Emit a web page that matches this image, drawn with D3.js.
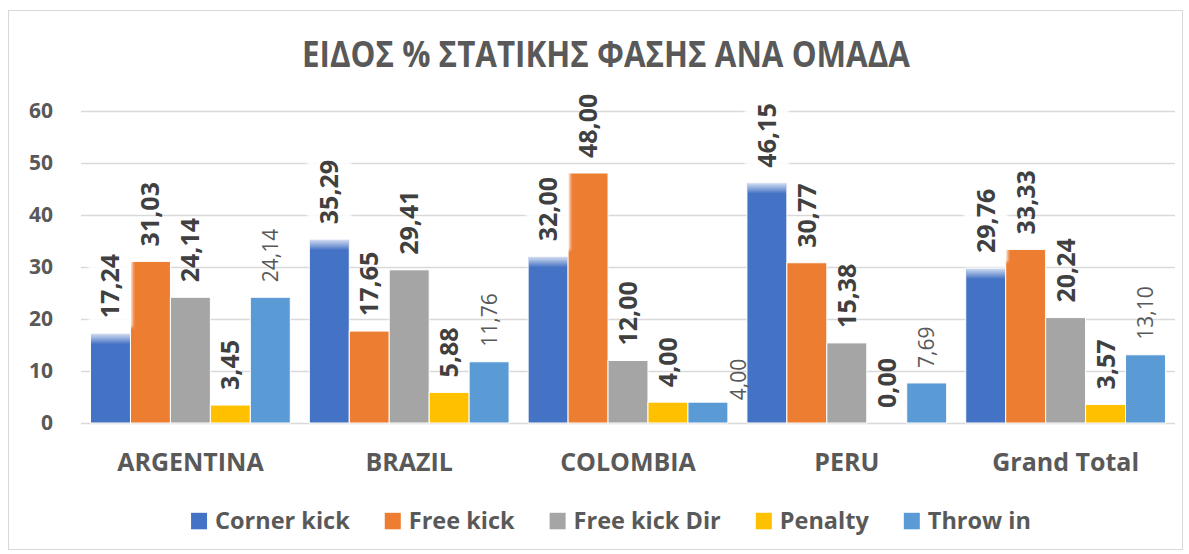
<!DOCTYPE html>
<html>
<head>
<meta charset="utf-8">
<script src="https://cdn.jsdelivr.net/npm/d3@7"></script>
<style>
  html, body { margin: 0; padding: 0; background: #fff; }
  svg { display: block; }
  text { font-family: "Open Sans", "Noto Sans", sans-serif; }
</style>
</head>
<body>
<svg id="chart" width="1189" height="554"></svg>
<script>
// ---- data ----
const title = "ΕΙΔΟΣ % ΣΤΑΤΙΚΗΣ ΦΑΣΗΣ ΑΝΑ ΟΜΑΔΑ";
const categories = ["ARGENTINA", "BRAZIL", "COLOMBIA", "PERU", "Grand Total"];
const seriesNames = ["Corner kick", "Free kick", "Free kick Dir", "Penalty", "Throw in"];
const cornerKick  = [17.24, 35.29, 32.00, 46.15, 29.76];
const freeKick    = [31.03, 17.65, 48.00, 30.77, 33.33];
const freeKickDir = [24.14, 29.41, 12.00, 15.38, 20.24];
const penalty     = [3.45, 5.88, 4.00, 0.00, 3.57];
const throwIn     = [24.14, 11.76, 4.00, 7.69, 13.10];
const yTicks = [0, 10, 20, 30, 40, 50, 60];

// ---- styling ----
const colors = ["#4472C4", "#ED7D31", "#A5A5A5", "#FFC000", "#5B9BD5"];
const seriesValues = [cornerKick, freeKick, freeKickDir, penalty, throwIn];
const textGray = "#595959";
const labelDark = "#404040";
const gridColor = "#d9d9d9";
// manual label nudges (as in the source chart)
const labelNudge = { "COLOMBIA|Throw in": { dx: 31, dy: 13 } };

const svg = d3.select("#chart");
const fmt = v => d3.format(".2f")(v).replace(".", ",");

// chart border
svg.append("rect")
  .attr("x", 8.5).attr("y", 10.5).attr("width", 1174).attr("height", 539)
  .attr("fill", "#fff").attr("stroke", gridColor).attr("stroke-width", 1);

// defs
const defs = svg.append("defs");
const grad = defs.append("linearGradient").attr("id", "glow").attr("x1", 0).attr("y1", 0).attr("x2", 0).attr("y2", 1);
grad.append("stop").attr("offset", "0%").attr("stop-color", "#fff").attr("stop-opacity", 0.8);
grad.append("stop").attr("offset", "100%").attr("stop-color", "#fff").attr("stop-opacity", 0);
const blur = defs.append("filter").attr("id", "soft").attr("x", "-20%").attr("y", "-20%").attr("width", "140%").attr("height", "140%");
blur.append("feGaussianBlur").attr("stdDeviation", 1.5);

// scales
const plotLeft = 81, plotRight = 1175;
const y = d3.scaleLinear().domain([0, 60]).range([423, 110.5]);
const x0 = d3.scaleBand().domain(categories).range([plotLeft, plotRight]).paddingInner(0.087).paddingOuter(0.0435);
const x1 = d3.scaleBand().domain(seriesNames).range([0, x0.bandwidth()]).padding(0);

// title
const t = svg.append("text")
  .attr("x", 606).attr("y", 66.5)
  .attr("text-anchor", "middle")
  .attr("font-size", 35).attr("font-weight", 700).attr("fill", textGray)
  .text(title);
const tw = t.node().getComputedTextLength();
if (tw > 608) t.attr("textLength", 608).attr("lengthAdjust", "spacingAndGlyphs");

// gridlines
svg.append("g").selectAll("line").data(yTicks).join("line")
  .attr("x1", plotLeft).attr("x2", plotRight)
  .attr("y1", d => Math.round(y(d)) + 0.5).attr("y2", d => Math.round(y(d)) + 0.5)
  .attr("stroke", gridColor).attr("stroke-width", 1.3);

// y axis labels
const yAxis = d3.axisLeft(y).tickValues(yTicks).tickSize(0).tickPadding(0).tickFormat(d3.format("d"));
const gy = svg.append("g").attr("transform", "translate(53,0)").call(yAxis);
gy.select(".domain").remove();
gy.selectAll("text")
  .attr("font-family", "'Open Sans', sans-serif")
  .attr("font-size", 21).attr("font-weight", 700).attr("fill", textGray);

// x axis labels
const xAxis = d3.axisBottom(x0).tickSize(0).tickPadding(0);
const gx = svg.append("g").attr("transform", "translate(0,423)").call(xAxis);
gx.select(".domain").remove();
gx.selectAll("text")
  .attr("font-family", "'Open Sans', sans-serif")
  .attr("font-size", 25).attr("font-weight", 700).attr("fill", textGray)
  .attr("dy", null).attr("y", 47.5);

// bars
const rows = [];
categories.forEach((c, ci) => {
  seriesNames.forEach((s, si) => {
    rows.push({ cat: c, series: s, si, value: seriesValues[si][ci] });
  });
});

const barG = svg.append("g");
barG.selectAll("rect").data(rows).join("rect")
  .attr("x", d => x0(d.cat) + x1(d.series))
  .attr("y", d => y(d.value))
  .attr("width", x1.bandwidth())
  .attr("height", d => y(0) - y(d.value))
  .attr("fill", d => colors[d.si])
  .attr("stroke", "#fff").attr("stroke-width", 1);

// glow on top of corner kick bars
const cornerRows = rows.filter(d => d.si === 0);
barG.selectAll("rect.glow").data(cornerRows).join("rect").attr("class", "glow")
  .attr("x", d => x0(d.cat) + x1(d.series) + 0.5)
  .attr("y", d => y(d.value))
  .attr("width", x1.bandwidth() - 1)
  .attr("height", 11)
  .attr("fill", "url(#glow)");

// data labels
const gap = 15;
const labelPos = d => {
  const n = labelNudge[d.cat + "|" + d.series] || { dx: 0, dy: 0 };
  const cx = x0(d.cat) + x1(d.series) + x1.bandwidth() / 2 + n.dx;
  const by = y(d.value) - gap + n.dy;
  return { cx, by };
};

const labG = svg.append("g");
const labels = labG.selectAll("text").data(rows).join("text")
  .attr("transform", d => { const p = labelPos(d); return `translate(${p.cx},${p.by}) rotate(-90)`; })
  .attr("dy", "0.36em")
  .attr("text-anchor", "start")
  .attr("font-size", d => d.si === 4 ? 21 : 25)
  .attr("font-weight", d => d.si === 4 ? 400 : 700)
  .attr("fill", d => d.si === 4 ? textGray : labelDark)
  .text(d => fmt(d.value));

// white boxes behind corner kick labels
const boxG = svg.insert("g", () => labG.node());
labels.filter(d => d.si === 0).each(function (d) {
  const len = this.getComputedTextLength();
  const p = labelPos(d);
  const top = p.by - len - 5;
  boxG.append("rect")
    .attr("x", p.cx - 22).attr("y", top)
    .attr("width", 44).attr("height", Math.max(0, y(d.value) - top - 6))
    .attr("fill", "#fff").attr("opacity", 0.9).attr("filter", "url(#soft)");
});

// legend
const legend = svg.append("g");
const items = legend.selectAll("g").data(seriesNames).join("g");
items.append("rect").attr("width", 16).attr("height", 16.5).attr("y", 512.8)
  .attr("fill", (d, i) => colors[i]);
items.append("text").attr("y", 529).attr("font-size", 23.5).attr("font-weight", 700)
  .attr("fill", textGray).text(d => d);
const widths = [];
items.selectAll("text").each(function () { widths.push(this.getComputedTextLength()); });
const sqW = 16, sqGap = 8, itemGap = 35;
const total = d3.sum(widths) + seriesNames.length * (sqW + sqGap) + (seriesNames.length - 1) * itemGap;
let cursor = 611 - total / 2;
items.each(function (d, i) {
  const g = d3.select(this);
  g.select("rect").attr("x", cursor);
  g.select("text").attr("x", cursor + sqW + sqGap);
  cursor += sqW + sqGap + widths[i] + itemGap;
});
</script>
</body>
</html>
